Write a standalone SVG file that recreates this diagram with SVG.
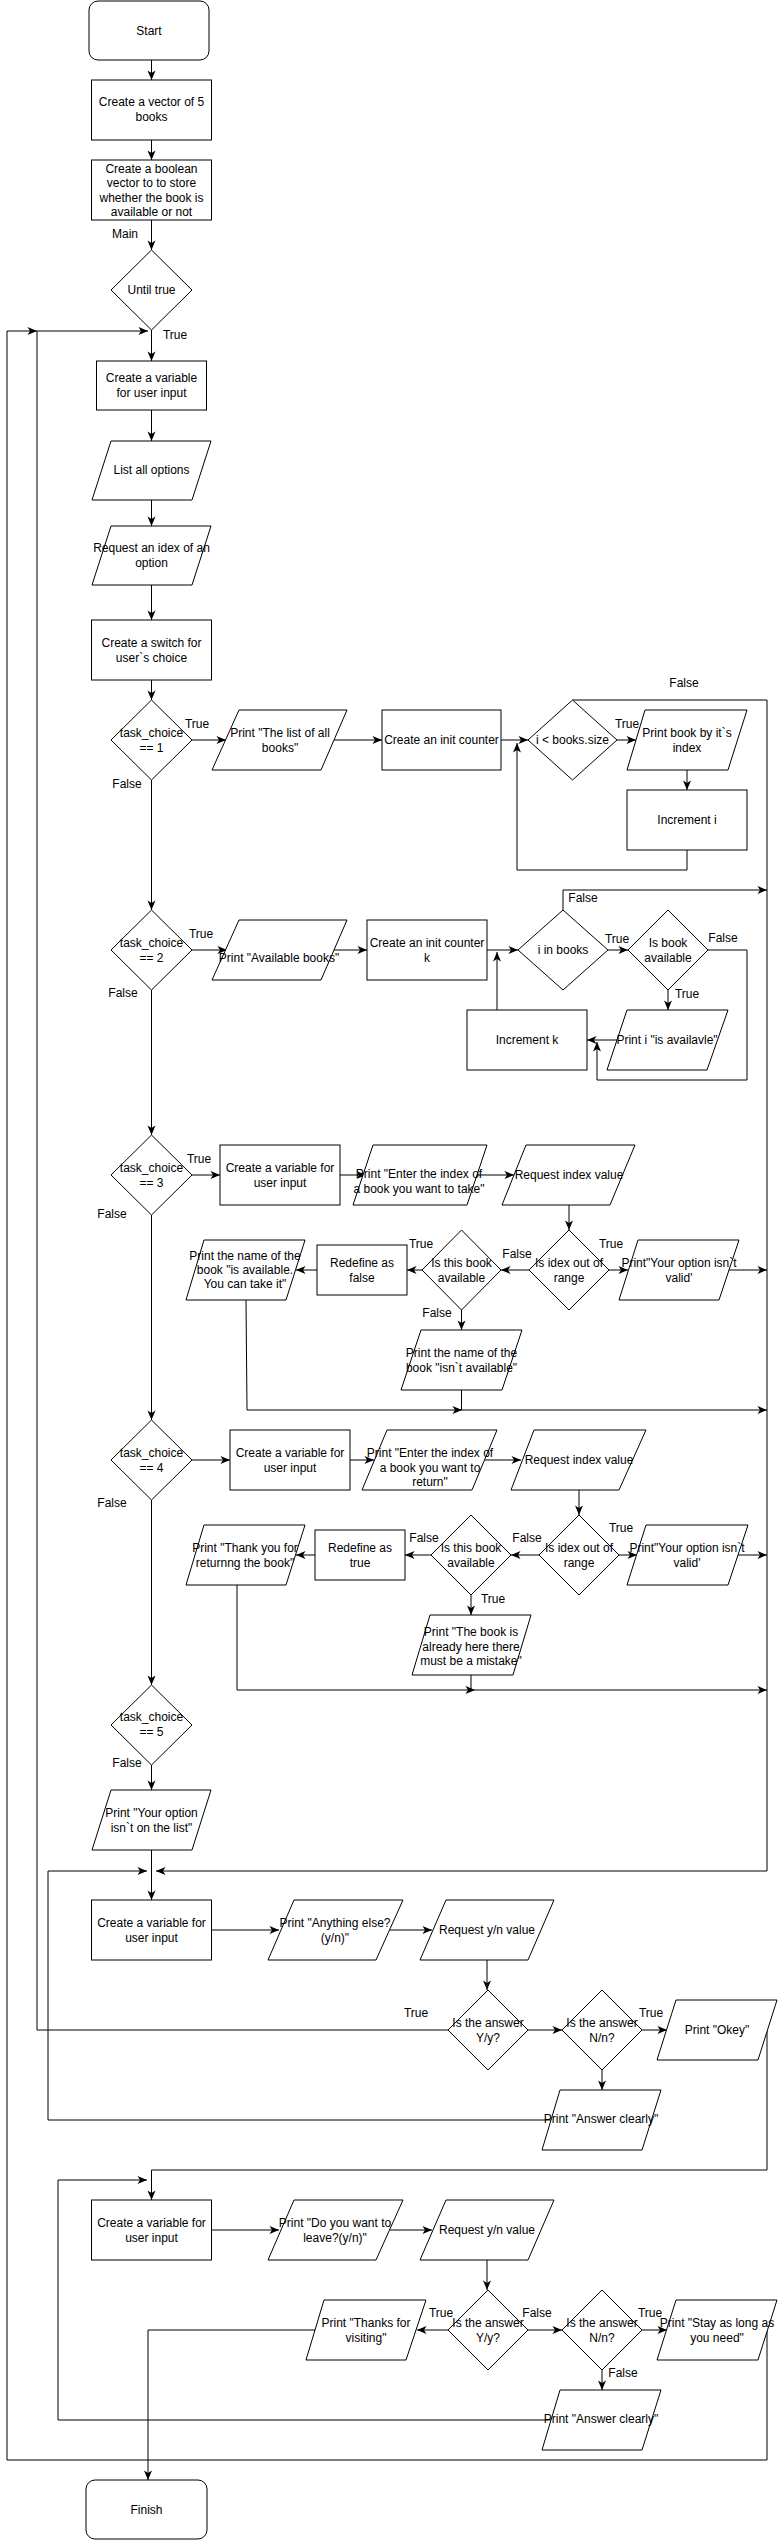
<svg xmlns="http://www.w3.org/2000/svg" width="778" height="2541" viewBox="0 0 778 2541">
<style>
.n{fill:#fff;stroke:#000;stroke-width:1}
.c{fill:none;stroke:#000;stroke-width:1}
text{font-family:"Liberation Sans",Arial,sans-serif;font-size:12px;fill:#000;text-anchor:middle}
</style>
<defs>
<marker id="a" markerUnits="userSpaceOnUse" markerWidth="10" markerHeight="10" refX="10" refY="5" orient="auto">
<path d="M0.5,1 L10,5 L0.5,9 L3,5 z" fill="#000"/>
</marker>
</defs>
<rect width="778" height="2541" fill="#fff"/>

<g id="connectors" class="c" marker-end="url(#a)">
<path d="M151.5,60 V80"/>
<path d="M151.5,140 V160"/>
<path d="M151.5,220 V250"/>
<path d="M151.5,330 V361"/>
<path d="M151.5,410 V441"/>
<path d="M151.5,500 V526"/>
<path d="M151.5,585 V620"/>
<path d="M151.5,680 V700"/>
<path d="M192,740 H226"/>
<path d="M334,740 H382"/>
<path d="M501,740 H528"/>
<path d="M617,740 H636"/>
<path d="M687,770 V790"/>
<path d="M687,850 V870 H517 V743"/>
<path d="M572.5,700 H767 V1871 H156" marker-end="url(#a)"/>
<path d="M151.5,780 V910"/>
<path d="M192,950 H227"/>
<path d="M334,950 H367"/>
<path d="M487,950 H518"/>
<path d="M563,910 V890 H767"/>
<path d="M608,950 H628"/>
<path d="M708,950 H747 V1080 H597 V1042"/>
<path d="M668,990 V1010"/>
<path d="M617,1040 H587"/>
<path d="M497,1010 V952"/>
<path d="M151.5,990 V1135"/>
<path d="M192,1175 H220"/>
<path d="M340,1175 H366"/>
<path d="M477,1175 H514"/>
<path d="M569,1205 V1230"/>
<path d="M609,1270 H628"/>
<path d="M729,1270 H767"/>
<path d="M529,1270 H501"/>
<path d="M422,1270 H407"/>
<path d="M317,1270 H296"/>
<path d="M461.5,1310 V1330"/>
<path d="M461.5,1390 V1410" marker-end="none"/>
<path d="M246,1300 L247,1410 H462"/>
<path d="M462,1410 H767"/>
<path d="M151.5,1215 V1420"/>
<path d="M192,1460 H230"/>
<path d="M350,1460 H374"/>
<path d="M485,1460 H521"/>
<path d="M579,1490 V1515"/>
<path d="M619,1555 H637"/>
<path d="M738,1555 H767"/>
<path d="M539,1555 H511"/>
<path d="M431,1555 H405"/>
<path d="M315,1555 H296"/>
<path d="M471,1595 V1615"/>
<path d="M471,1675 V1690" marker-end="none"/>
<path d="M237,1585 V1690 H475"/>
<path d="M475,1690 H767"/>
<path d="M151.5,1500 V1685"/>
<path d="M151.5,1765 V1790"/>
<path d="M151.5,1850 V1900"/>
<path d="M211.5,1930 H279"/>
<path d="M390,1930 H432"/>
<path d="M487,1960 V1990"/>
<path d="M448,2030 H37 V331 H148"/>
<path d="M528,2030 H562"/>
<path d="M642,2030 H667"/>
<path d="M602,2070 V2090"/>
<path d="M551,2120 H48 V1871 H147"/>
<path d="M767,2030 V2170 H151.5 V2200"/>
<path d="M211.5,2230 H279"/>
<path d="M390,2230 H432"/>
<path d="M487,2260 V2290"/>
<path d="M448,2330 H417"/>
<path d="M315,2330 H148 V2480"/>
<path d="M528,2330 H562"/>
<path d="M642,2330 H667"/>
<path d="M602,2370 V2390"/>
<path d="M551,2420 H58 V2180 H147"/>
<path d="M767,2330 V2460 H7 V331 H37"/>
</g>

<g id="labels">
<text x="125" y="238">Main</text>
<text x="175" y="339">True</text>
<text x="197" y="728">True</text>
<text x="127" y="788">False</text>
<text x="627" y="728">True</text>
<text x="684" y="687">False</text>
<text x="201" y="938">True</text>
<text x="123" y="997">False</text>
<text x="583" y="902">False</text>
<text x="617" y="943">True</text>
<text x="723" y="942">False</text>
<text x="687" y="998">True</text>
<text x="199" y="1163">True</text>
<text x="112" y="1218">False</text>
<text x="611" y="1248">True</text>
<text x="517" y="1258">False</text>
<text x="421" y="1248">True</text>
<text x="437" y="1317">False</text>
<text x="112" y="1507">False</text>
<text x="621" y="1532">True</text>
<text x="527" y="1542">False</text>
<text x="424" y="1542">False</text>
<text x="493" y="1603">True</text>
<text x="127" y="1767">False</text>
<text x="416" y="2017">True</text>
<text x="651" y="2017">True</text>
<text x="441" y="2317">True</text>
<text x="537" y="2317">False</text>
<text x="650" y="2317">True</text>
<text x="623" y="2377">False</text>
</g>

<g id="start"><rect class="n" x="89" y="1" width="120" height="59" rx="9"/><text x="149" y="35">Start</text></g>
<g id="vector"><rect class="n" x="91.5" y="80" width="120" height="60"/><text x="151.5" y="106">Create a vector of 5</text><text x="151.5" y="121">books</text></g>
<g id="boolvec"><rect class="n" x="91.5" y="160" width="120" height="60"/><text x="151.5" y="173">Create a boolean</text><text x="151.5" y="187">vector to to store</text><text x="151.5" y="202">whether the book is</text><text x="151.5" y="216">available or not</text></g>
<g id="until"><polygon class="n" points="151.5,250 192,290 151.5,330 111,290"/><text x="151.5" y="294">Until true</text></g>
<g id="var1"><rect class="n" x="96.5" y="361" width="110" height="49"/><text x="151.5" y="382">Create a variable</text><text x="151.5" y="397">for user input</text></g>
<g id="listopts"><polygon class="n" points="92,500 111,441 211,441 192,500"/><text x="151.5" y="474">List all options</text></g>
<g id="reqopt"><polygon class="n" points="92,585 111,526 211,526 192,585"/><text x="151.5" y="552">Request an idex of an</text><text x="151.5" y="567">option</text></g>
<g id="switch"><rect class="n" x="91.5" y="620" width="120" height="60"/><text x="151.5" y="647">Create a switch for</text><text x="151.5" y="662">user`s choice</text></g>

<g id="tc1"><polygon class="n" points="151.5,700 192,740 151.5,780 111,740"/><text x="151.5" y="737">task_choice</text><text x="151.5" y="752">== 1</text></g>
<g id="printall"><polygon class="n" points="212,770 239,710 347,710 321,770"/><text x="280" y="737">Print "The list of all</text><text x="280" y="752">books"</text></g>
<g id="initi"><rect class="n" x="382" y="710" width="119" height="60"/><text x="441.5" y="744">Create an init counter</text></g>
<g id="ilt"><polygon class="n" points="572.5,700 617,740 572.5,780 528,740"/><text x="572.5" y="744">i &lt; books.size</text></g>
<g id="printbook"><polygon class="n" points="627,770 645,710 747,710 728,770"/><text x="687" y="737">Print book by it`s</text><text x="687" y="752">index</text></g>
<g id="inci"><rect class="n" x="627" y="790" width="120" height="60"/><text x="687" y="824">Increment i</text></g>

<g id="tc2"><polygon class="n" points="151.5,910 192,950 151.5,990 111,950"/><text x="151.5" y="947">task_choice</text><text x="151.5" y="962">== 2</text></g>
<g id="printavail"><polygon class="n" points="212,980 239,920 347,920 321,980"/><text x="279" y="962">Print "Available books"</text></g>
<g id="initk"><rect class="n" x="367" y="920" width="120" height="60"/><text x="427" y="947">Create an init counter</text><text x="427" y="962">k</text></g>
<g id="inbooks"><polygon class="n" points="563,910 608,950 563,990 518,950"/><text x="563" y="954">i in books</text></g>
<g id="isavail"><polygon class="n" points="668,910 708,950 668,990 628,950"/><text x="668" y="947">Is book</text><text x="668" y="962">available</text></g>
<g id="printi"><polygon class="n" points="607,1070 627,1010 728,1010 707,1070"/><text x="667" y="1044">Print i "is availavle"</text></g>
<g id="inck"><rect class="n" x="467" y="1010" width="120" height="60"/><text x="527" y="1044">Increment k</text></g>

<g id="tc3"><polygon class="n" points="151.5,1135 192,1175 151.5,1215 111,1175"/><text x="151.5" y="1172">task_choice</text><text x="151.5" y="1187">== 3</text></g>
<g id="var3"><rect class="n" x="220" y="1145" width="120" height="60"/><text x="280" y="1172">Create a variable for</text><text x="280" y="1187">user input</text></g>
<g id="enter3"><polygon class="n" points="353,1205 373,1145 487,1145 467,1205"/><text x="419" y="1178">Print "Enter the index of</text><text x="419" y="1193">a book you want to take"</text></g>
<g id="req3"><polygon class="n" points="502,1205 526,1145 635,1145 610,1205"/><text x="569" y="1179">Request index value</text></g>
<g id="range3"><polygon class="n" points="569,1230 609,1270 569,1310 529,1270"/><text x="569" y="1267">Is idex out of</text><text x="569" y="1282">range</text></g>
<g id="invalid3"><polygon class="n" points="619,1300 638,1240 739,1240 719,1300"/><text x="679" y="1267">Print"Your option isn`t</text><text x="679" y="1282">valid'</text></g>
<g id="avail3"><polygon class="n" points="461.5,1230 501,1270 461.5,1310 422,1270"/><text x="461.5" y="1267">Is this book</text><text x="461.5" y="1282">available</text></g>
<g id="redef3"><rect class="n" x="317" y="1245" width="90" height="50"/><text x="362" y="1267">Redefine as</text><text x="362" y="1282">false</text></g>
<g id="take"><polygon class="n" points="186,1300 204,1240 305,1240 286,1300"/><text x="245" y="1260">Print the name of the</text><text x="245" y="1274">book "is available.</text><text x="245" y="1288">You can take it"</text></g>
<g id="isnt"><polygon class="n" points="401,1390 421,1330 522,1330 502,1390"/><text x="461.5" y="1357">Print the name of the</text><text x="461.5" y="1372">book "isn`t available"</text></g>

<g id="tc4"><polygon class="n" points="151.5,1420 192,1460 151.5,1500 111,1460"/><text x="151.5" y="1457">task_choice</text><text x="151.5" y="1472">== 4</text></g>
<g id="var4"><rect class="n" x="230" y="1430" width="120" height="60"/><text x="290" y="1457">Create a variable for</text><text x="290" y="1472">user input</text></g>
<g id="enter4"><polygon class="n" points="362,1490 387,1430 497,1430 472,1490"/><text x="430" y="1457">Print "Enter the index of</text><text x="430" y="1472">a book you want to</text><text x="430" y="1486">return"</text></g>
<g id="req4"><polygon class="n" points="511,1490 534,1430 646,1430 619,1490"/><text x="579" y="1464">Request index value</text></g>
<g id="range4"><polygon class="n" points="579,1515 619,1555 579,1595 539,1555"/><text x="579" y="1552">Is idex out of</text><text x="579" y="1567">range</text></g>
<g id="invalid4"><polygon class="n" points="627,1585 646,1525 748,1525 728,1585"/><text x="687" y="1552">Print"Your option isn`t</text><text x="687" y="1567">valid'</text></g>
<g id="avail4"><polygon class="n" points="471,1515 511,1555 471,1595 431,1555"/><text x="471" y="1552">Is this book</text><text x="471" y="1567">available</text></g>
<g id="redef4"><rect class="n" x="315" y="1530" width="90" height="50"/><text x="360" y="1552">Redefine as</text><text x="360" y="1567">true</text></g>
<g id="returned"><polygon class="n" points="186,1585 204,1525 305,1525 286,1585"/><text x="245" y="1552">Print "Thank you for</text><text x="245" y="1567">returnng the book"</text></g>
<g id="mistake"><polygon class="n" points="412,1675 430,1615 531,1615 513,1675"/><text x="471" y="1636">Print "The book is</text><text x="471" y="1651">already here there</text><text x="471" y="1665">must be a mistake"</text></g>

<g id="tc5"><polygon class="n" points="151.5,1685 192,1725 151.5,1765 111,1725"/><text x="151.5" y="1721">task_choice</text><text x="151.5" y="1736">== 5</text></g>
<g id="notlist"><polygon class="n" points="92,1850 111,1790 211,1790 192,1850"/><text x="151.5" y="1817">Print "Your option</text><text x="151.5" y="1832">isn`t on the list"</text></g>

<g id="var6"><rect class="n" x="91.5" y="1900" width="120" height="60"/><text x="151.5" y="1927">Create a variable for</text><text x="151.5" y="1942">user input</text></g>
<g id="anything"><polygon class="n" points="268,1960 294,1900 403,1900 376,1960"/><text x="335" y="1927">Print "Anything else?</text><text x="335" y="1942">(y/n)"</text></g>
<g id="reqyn1"><polygon class="n" points="420,1960 446,1900 554,1900 528,1960"/><text x="487" y="1934">Request y/n value</text></g>
<g id="y1"><polygon class="n" points="488,1990 528,2030 488,2070 448,2030"/><text x="488" y="2027">Is the answer</text><text x="488" y="2042">Y/y?</text></g>
<g id="n1"><polygon class="n" points="602,1990 642,2030 602,2070 562,2030"/><text x="602" y="2027">Is the answer</text><text x="602" y="2042">N/n?</text></g>
<g id="okey"><polygon class="n" points="657,2060 676,2000 777,2000 758,2060"/><text x="717" y="2034">Print "Okey"</text></g>
<g id="clear1"><polygon class="n" points="542,2150 560,2090 661,2090 642,2150"/><text x="601" y="2123">Print "Answer clearly"</text></g>

<g id="var7"><rect class="n" x="91.5" y="2200" width="120" height="60"/><text x="151.5" y="2227">Create a variable for</text><text x="151.5" y="2242">user input</text></g>
<g id="leave"><polygon class="n" points="268,2260 294,2200 403,2200 376,2260"/><text x="335" y="2227">Print "Do you want to</text><text x="335" y="2242">leave?(y/n)"</text></g>
<g id="reqyn2"><polygon class="n" points="420,2260 446,2200 554,2200 528,2260"/><text x="487" y="2234">Request y/n value</text></g>
<g id="y2"><polygon class="n" points="488,2290 528,2330 488,2370 448,2330"/><text x="488" y="2327">Is the answer</text><text x="488" y="2342">Y/y?</text></g>
<g id="thanks"><polygon class="n" points="306,2360 324,2300 426,2300 406,2360"/><text x="366" y="2327">Print "Thanks for</text><text x="366" y="2342">visiting"</text></g>
<g id="n2"><polygon class="n" points="602,2290 642,2330 602,2370 562,2330"/><text x="602" y="2327">Is the answer</text><text x="602" y="2342">N/n?</text></g>
<g id="stay"><polygon class="n" points="657,2360 676,2300 777,2300 758,2360"/><text x="717" y="2327">Print "Stay as long as</text><text x="717" y="2342">you need"</text></g>
<g id="clear2"><polygon class="n" points="542,2450 560,2390 661,2390 642,2450"/><text x="601" y="2423">Print "Answer clearly"</text></g>
<g id="finish"><rect class="n" x="86" y="2480" width="121" height="59" rx="9"/><text x="146.5" y="2514">Finish</text></g>
</svg>
